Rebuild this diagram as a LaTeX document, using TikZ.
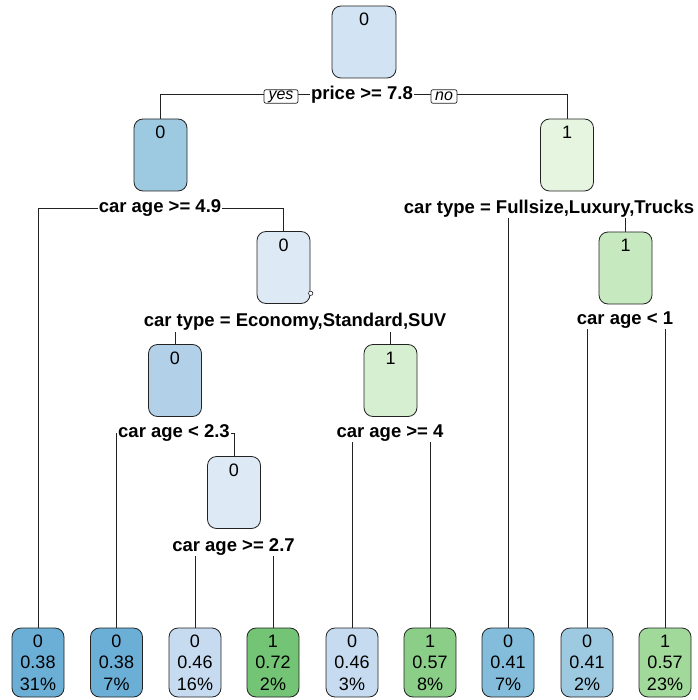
\documentclass[tikz,border=0pt]{standalone}
\usepackage{fontspec}
\setmainfont{Liberation Sans}
\usetikzlibrary{backgrounds}
\definecolor{cRoot}{HTML}{D2E3F3}
\definecolor{cL}{HTML}{9ECAE1}
\definecolor{cLR}{HTML}{DDE9F5}
\definecolor{cLRL}{HTML}{B2D1E8}
\definecolor{cLRR}{HTML}{D7EFD1}
\definecolor{cR}{HTML}{E5F5E0}
\definecolor{cRR}{HTML}{C7E9C0}
\definecolor{lfA}{HTML}{6BAED6}
\definecolor{lfB}{HTML}{C6DBEF}
\definecolor{lfC}{HTML}{74C476}
\definecolor{lfD}{HTML}{8ACE88}
\definecolor{lfE}{HTML}{84BCDB}
\definecolor{lfF}{HTML}{9ECAE1}
\definecolor{lfG}{HTML}{A1D99B}
\definecolor{edgec}{HTML}{222222}
\begin{document}
\begin{tikzpicture}[x=1pt,y=-1pt,
  innerbox/.style={draw=edgec, rounded corners=9pt, minimum width=53pt, minimum height=72pt, inner sep=0pt, line width=0.8pt},
  boxlabel/.style={font=\fontsize{18}{20}\selectfont, inner sep=0pt},
  leafbox/.style={draw=edgec, rounded corners=9pt, minimum width=52pt, minimum height=69pt, inner sep=0pt, line width=0.8pt, align=center, font=\fontsize{18}{21.5}\selectfont},
  splitlab/.style={fill=white, inner sep=1pt, font=\bfseries\fontsize{18.5}{20}\selectfont},
  yn/.style={draw=edgec, fill=white, rounded corners=2pt, font=\itshape\fontsize{16}{16}\selectfont, inner sep=0pt, minimum height=13.5pt, line width=0.7pt},
  edge/.style={draw=edgec, line width=0.8pt}]
\useasboundingbox (0,0) rectangle (697,700);

% interior nodes
\node[innerbox, fill=cRoot, minimum width=64pt] (root) at (364,42) {};
\node[boxlabel] at ([yshift=-14pt]root.north) {0};
\node[innerbox, fill=cL] (nL) at (160.5,155) {};
\node[boxlabel] at ([yshift=-14pt]nL.north) {0};
\node[innerbox, fill=cLR] (nLR) at (283.5,267.5) {};
\node[boxlabel] at ([yshift=-14pt]nLR.north) {0};
\node[innerbox, fill=cLRL] (nLRL) at (175,380.5) {};
\node[boxlabel] at ([yshift=-14pt]nLRL.north) {0};
\node[innerbox, fill=cLR] (nLRLR) at (234,492.5) {};
\node[boxlabel] at ([yshift=-14pt]nLRLR.north) {0};
\node[innerbox, fill=cLRR] (nLRR) at (390.5,380.5) {};
\node[boxlabel] at ([yshift=-14pt]nLRR.north) {1};
\node[innerbox, fill=cR] (nR) at (567,155) {};
\node[boxlabel] at ([yshift=-14pt]nR.north) {1};
\node[innerbox, fill=cRR] (nRR) at (625.5,268) {};
\node[boxlabel] at ([yshift=-14pt]nRR.north) {1};
\draw[edgec, line width=0.6pt, fill=white] (310.7,293.3) circle (2.2pt);

% split labels
\node[splitlab] (s1) at (362,94.5) {price >= 7.8};
\node[splitlab] (s2) at (160,208.5) {car age >= 4.9};
\node[splitlab] (s3) at (295,322) {car type = Economy,Standard,SUV};
\node[splitlab] (s4) at (174,433) {car age < 2.3};
\node[splitlab] (s5) at (233.5,547) {car age >= 2.7};
\node[splitlab] (s6) at (390,433) {car age >= 4};
\node[splitlab] (s7) at (549,208.5) {car type = Fullsize,Luxury,Trucks};
\node[splitlab] (s8) at (625,320) {car age < 1};

\node[yn, minimum width=34pt] (yes) at (281,96.5) {yes};
\node[yn, minimum width=26pt] (no) at (444,96.5) {no};

% leaves
\node[leafbox, fill=lfA] (l1) at (38,662.5) {0\\0.38\\31\%};
\node[leafbox, fill=lfA] (l2) at (116.5,662.5) {0\\0.38\\7\%};
\node[leafbox, fill=lfB] (l3) at (195,662.5) {0\\0.46\\16\%};
\node[leafbox, fill=lfC] (l4) at (273,662.5) {1\\0.72\\2\%};
\node[leafbox, fill=lfB] (l5) at (352,662.5) {0\\0.46\\3\%};
\node[leafbox, fill=lfD] (l6) at (430,662.5) {1\\0.57\\8\%};
\node[leafbox, fill=lfE] (l7) at (508,662.5) {0\\0.41\\7\%};
\node[leafbox, fill=lfF] (l8) at (587,662.5) {0\\0.41\\2\%};
\node[leafbox, fill=lfG] (l9) at (665,662.5) {1\\0.57\\23\%};

\begin{pgfonlayer}{background}
\draw[edge] (nL.north) |- (s1.center) -| (nR.north);
\draw[edge] (l1.north) |- (s2.center) -| (nLR.north);
\draw[edge] (nLRL.north) |- (s3.center) -| (nLRR.north);
\draw[edge] (l2.north) |- (s4.center) -| (nLRLR.north);
\draw[edge] (l3.north) |- (s5.center) -| (l4.north);
\draw[edge] (l5.north) |- (s6.center) -| (l6.north);
\draw[edge] (l7.north) |- (s7.center) -| (nRR.north);
\draw[edge] (l8.north) |- (s8.center) -| (l9.north);
\end{pgfonlayer}
\end{tikzpicture}
\end{document}
